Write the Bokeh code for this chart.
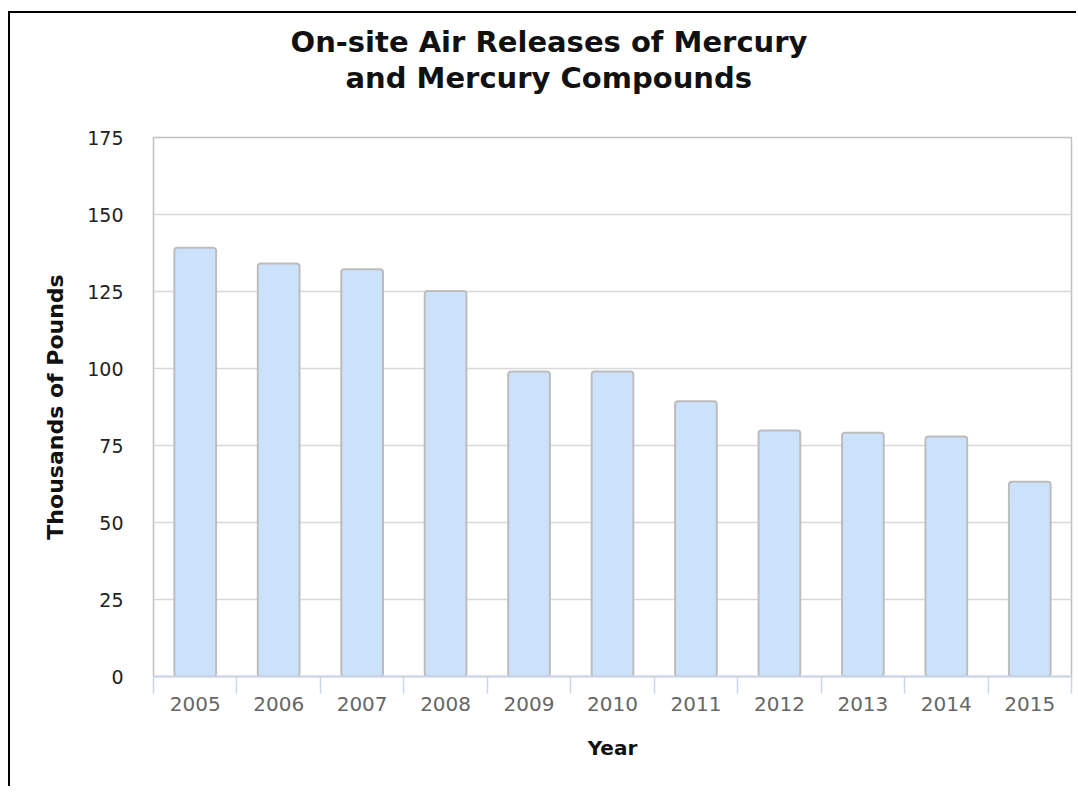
from bokeh.plotting import figure
from bokeh.models import FixedTicker, Range1d, Title
from bokeh.embed import file_html
from bokeh.resources import INLINE

years = ["2005", "2006", "2007", "2008", "2009", "2010", "2011", "2012", "2013", "2014", "2015"]
releases = [139.2, 134.1, 132.2, 125.2, 99.0, 99.0, 89.4, 79.9, 79.1, 77.9, 63.2]
y_ticks = [0, 25, 50, 75, 100, 125, 150, 175]
title_lines = ["On-site Air Releases of Mercury", "and Mercury Compounds"]

FONT = "DejaVu Sans"
n = len(years)
xs = list(range(n))

p = figure(width=1068, height=775, output_backend="svg", toolbar_location=None,
           x_range=Range1d(-0.5, n - 0.5), y_range=Range1d(0, 175), title=None,
           min_border_left=143, min_border_right=7, min_border_top=124, min_border_bottom=112)
p.styles = {"border-top": "2px solid black", "border-left": "2px solid black",
            "margin-top": "11px", "margin-left": "8px"}

# title: two lines, each centred at the same x (offsets from the frame's left edge);
# added from the frame outwards, with a spacer closest to the frame
p.add_layout(Title(text=" ", text_font_size="1px", standoff=40), "above")
for line, off in [(title_lines[1], 192), (title_lines[0], 137)]:
    p.add_layout(Title(text=line, align="left", offset=off, standoff=0, vertical_align="bottom",
                       text_font=FONT, text_font_style="bold", text_font_size="29px",
                       text_color="#111111"), "above")

p.outline_line_color = "#c0c0c0"
p.outline_line_width = 1.5

p.vbar(x=xs, top=releases, width=0.5, bottom=0, fill_color="#cce1fa",
       line_color="#bdbdbd", line_width=2, border_radius=3)

# axes
p.xgrid.grid_line_color = None
p.ygrid.grid_line_color = "#d8d8d8"
p.ygrid.grid_line_width = 1.5

p.yaxis.ticker = FixedTicker(ticks=y_ticks)
p.yaxis.axis_line_color = None
p.yaxis.major_tick_line_color = None
p.yaxis.minor_tick_line_color = None
p.yaxis.major_tick_out = 0
p.yaxis.major_tick_in = 0
p.yaxis.minor_tick_out = 0
p.yaxis.major_label_standoff = 30
p.yaxis.major_label_text_font = FONT
p.yaxis.major_label_text_font_size = "19px"
p.yaxis.major_label_text_color = "#222222"
p.yaxis.axis_label = "Thousands of Pounds"
p.yaxis.axis_label_text_font = FONT
p.yaxis.axis_label_text_font_style = "bold"
p.yaxis.axis_label_text_font_size = "22px"
p.yaxis.axis_label_text_color = "#111111"
p.yaxis.axis_label_standoff = 16

p.xaxis.ticker = FixedTicker(ticks=xs, minor_ticks=[i - 0.5 for i in range(n + 1)])
p.xaxis.major_label_overrides = {i: y for i, y in enumerate(years)}
p.xaxis.axis_line_color = "#ccd6eb"
p.xaxis.axis_line_width = 2
p.xaxis.major_tick_line_color = None
p.xaxis.minor_tick_line_color = "#ccd6eb"
p.xaxis.minor_tick_line_width = 1.5
p.xaxis.minor_tick_in = 0
p.xaxis.minor_tick_out = 17
p.xaxis.major_tick_out = 0
p.xaxis.major_tick_in = 0
p.xaxis.major_label_standoff = 3
p.xaxis.major_label_text_font = FONT
p.xaxis.major_label_text_font_size = "20px"
p.xaxis.major_label_text_color = "#666666"
p.xaxis.axis_label = "Year"
p.xaxis.axis_label_text_font = FONT
p.xaxis.axis_label_text_font_style = "bold"
p.xaxis.axis_label_text_font_size = "20px"
p.xaxis.axis_label_text_color = "#111111"
p.xaxis.axis_label_standoff = 22

open("out.html", "w").write(file_html(p, INLINE))
